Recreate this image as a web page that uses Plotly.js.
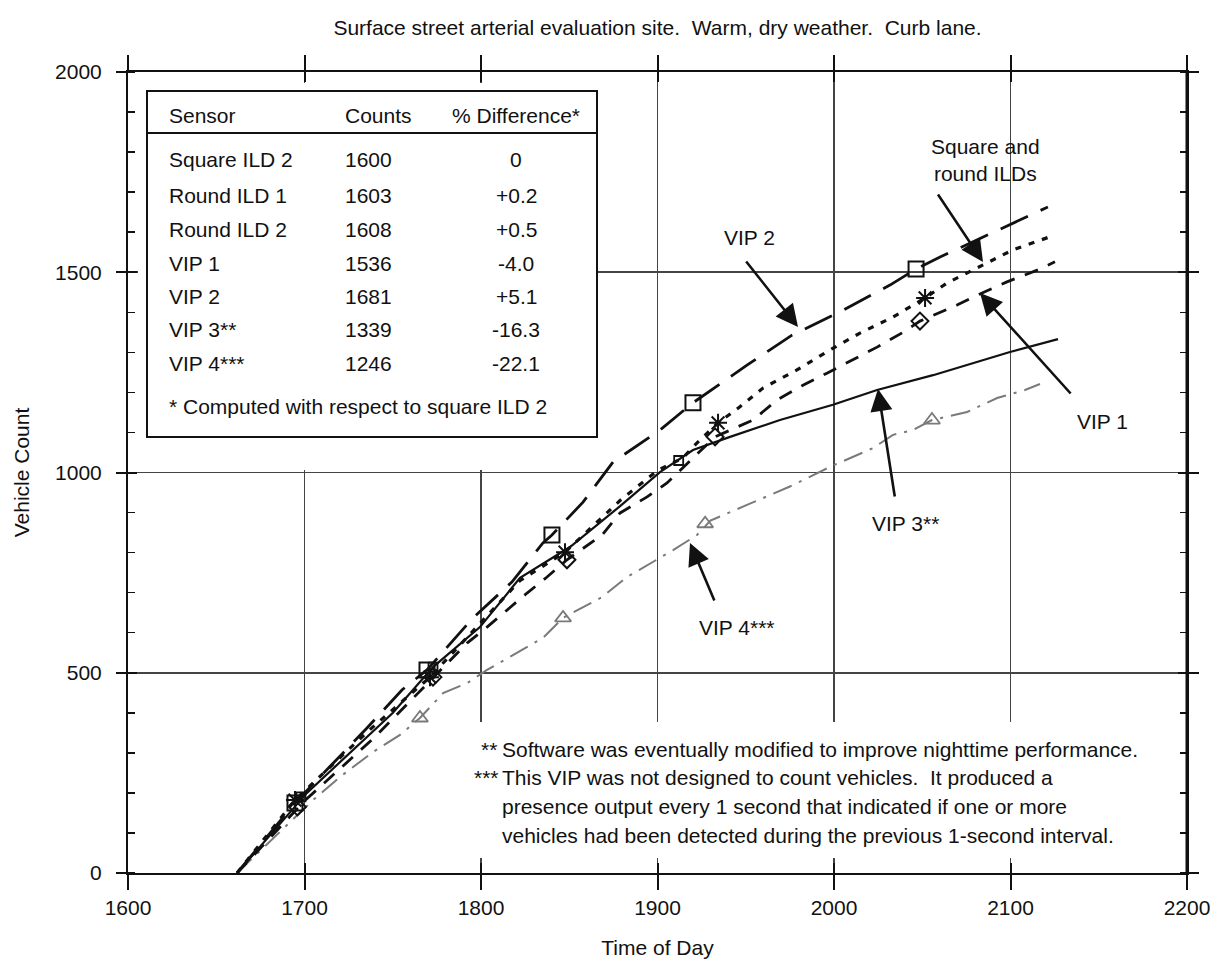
<!DOCTYPE html>
<html><head><meta charset="utf-8">
<script src="https://cdn.plot.ly/plotly-3.0.1.min.js"></script>
<style>html,body{margin:0;padding:0;background:#fff}#chart{width:1217px;height:960px}</style>
</head><body><div id="chart"></div>
<script>
// ---------- data ----------
const xTicks = [1600, 1700, 1800, 1900, 2000, 2100, 2200];
const yTicks = [0, 500, 1000, 1500, 2000];

// VIP 2 (long dashes, square markers)
const vip2Time  = [1661.8,1694.6,1735.4,1755.2,1769.4,1795.5,1817.6,1835.1,1840.2,1857.8,1874.8,1901.4,1920.1,1950.7,1976.2,2003.4,2031.7,2046.5,2060.1,2089.5,2121.2];
const vip2Count = [0,175,362,457,507,637,727,824,844,926,1026,1106,1174,1268,1343,1401,1468,1508,1538,1598,1663];
const vip2MarkTime  = [1694.6,1769.4,1840.2,1920.1,2046.5];
const vip2MarkCount = [175,507,844,1174,1508];

// Square and round ILDs (short dashes, asterisk markers)
const ildTime  = [1661.8,1694.6,1735,1771.1,1822,1847.6,1878.8,1900.3,1914.4,1920.1,1934.3,1946.7,1959.8,1979.0,1997.7,2014.7,2033.4,2051.6,2064.0,2084.4,2101.4,2125.2];
const ildCount = [0,182,350,489,730,801,930,1006,1036,1064,1124,1164,1211,1256,1306,1348,1388,1436,1473,1518,1556,1593];
const ildMarkTime  = [1694.6,1771.1,1847.6,1934.3,2051.6];
const ildMarkCount = [182,489,801,1124,1436];

// VIP 1 (medium dashes, diamond markers)
const vip1Time  = [1661.8,1700,1740,1772.8,1792.1,1803.4,1814.7,1826.1,1837.4,1848.7,1868.6,1878.8,1894.1,1905.4,1932.6,1954.1,1967.7,1982.4,1996.0,2010.8,2024.4,2039.1,2048.7,2069.7,2078.8,2098.0,2115.6,2125.2];
const vip1Count = [0,180,340,489,574,614,657,699,739,782,844,899,939,974,1089,1131,1181,1218,1248,1281,1313,1350,1378,1418,1438,1476,1506,1526];
const vip1MarkTime  = [1696,1772.8,1848.7,1932.6,2048.7];
const vip1MarkCount = [165,489,782,1089,1378];

// VIP 3** (solid)
const vip3Time  = [1661.8,1701.4,1750.1,1772.8,1799.4,1822.1,1850.4,1878.8,1901.4,1920.1,1941.1,1969.4,1999.4,2024.4,2056.1,2078.8,2099.7,2126.9];
const vip3Count = [0,200,400,514,614,737,814,916,1001,1056,1089,1131,1169,1206,1243,1273,1301,1333];
const vip3MarkTime  = [1698,1772.8,1912];
const vip3MarkCount = [190,514,1030];

// VIP 4*** (grey dash-dot, triangle markers)
const vip4Time  = [1661.8,1704.8,1720.1,1738.8,1754.1,1765.4,1778.5,1792.1,1803.4,1818.1,1835.1,1846.5,1868.6,1882.7,1894.1,1908.8,1922.4,1930,1950.7,1975,1997.7,2013.0,2022.1,2033.4,2044.8,2055.5,2075.4,2092.4,2108.2,2116.7];
const vip4Count = [0,182,240,302,345,387,449,474,507,544,587,637,689,739,769,806,844,880,919,965,1014,1044,1061,1094,1106,1131,1151,1186,1206,1221];
const vip4MarkTime  = [1765.4,1846.5,1927,2055.5];
const vip4MarkCount = [387,637,872,1131];

// table
const tableSensors = ['Square ILD 2','Round ILD 1','Round ILD 2','VIP 1','VIP 2','VIP 3**','VIP 4***'];
const tableCounts  = ['1600','1603','1608','1536','1681','1339','1246'];
const tableDiffs   = ['0','+0.2','+0.5','-4.0','+5.1','-16.3','-22.1'];

// ---------- layout helpers (pixel -> paper) ----------
const L = 128, R = 1187, T = 72, B = 873;
const px = x => (x - L) / (R - L);
const py = y => (B - y) / (B - T);
const FONT = 'Liberation Sans, Arial, Helvetica, sans-serif';
const INK = '#111';

function txt(x, y, text, anchor, size) {
  return {xref:'paper', yref:'paper', x:px(x), y:py(y), text:text, showarrow:false,
          xanchor:anchor || 'left', yanchor:'middle', font:{family:FONT, size:size || 21, color:INK}};
}
function arrow(tipX, tipY, tailX, tailY) {
  return {xref:'paper', yref:'paper', x:px(tipX), y:py(tipY), ax:tailX - tipX, ay:tailY - tipY,
          text:'', showarrow:true, arrowhead:2, arrowsize:1.7, arrowwidth:2.6, arrowcolor:INK, standoff:0, startstandoff:0};
}

const lineTrace = (x, y, style) => ({x, y, type:'scatter', mode:'lines', line:style, hoverinfo:'skip', showlegend:false});
const markTrace = (x, y, mk) => ({x, y, type:'scatter', mode:'markers', marker:mk, hoverinfo:'skip', showlegend:false});

const traces = [
  lineTrace(vip4Time, vip4Count, {color:'#7a7a7a', width:2, dash:'20px,8px,3px,8px'}),
  lineTrace(vip3Time, vip3Count, {color:INK, width:2.2}),
  lineTrace(vip1Time, vip1Count, {color:INK, width:2.8, dash:'14px,11px'}),
  lineTrace(ildTime, ildCount, {color:INK, width:3.2, dash:'6px,8px'}),
  lineTrace(vip2Time, vip2Count, {color:INK, width:2.8, dash:'30px,14px'}),
  markTrace(vip4MarkTime, vip4MarkCount, {symbol:'triangle-up-open', size:14, color:'#7a7a7a', line:{width:1.8, color:'#7a7a7a'}}),
  markTrace(vip3MarkTime, vip3MarkCount, {symbol:'square-open', size:9, color:INK, line:{width:1.8, color:INK}}),
  markTrace(vip1MarkTime, vip1MarkCount, {symbol:'diamond-open', size:13, color:INK, line:{width:2, color:INK}}),
  markTrace(ildMarkTime, ildMarkCount, {symbol:'asterisk-open', size:15, color:INK, line:{width:2, color:INK}}),
  markTrace(vip2MarkTime, vip2MarkCount, {symbol:'square-open', size:15, color:INK, line:{width:2, color:INK}}),
  {x:[], y:[], type:'scatter', mode:'markers', xaxis:'x2', yaxis:'y2', showlegend:false, hoverinfo:'skip'}
];

const annotations = [
  txt(167, 115, 'Sensor'),
  txt(343, 115, 'Counts'),
  txt(450, 115, '% Difference*'),
  txt(167, 406, '* Computed with respect to square ILD 2')
];
const rowY = [159, 195, 229, 263, 296, 329, 363];
tableSensors.forEach((s, i) => {
  annotations.push(txt(167, rowY[i], s));
  annotations.push(txt(343, rowY[i], tableCounts[i]));
  annotations.push(txt(516, rowY[i], tableDiffs[i], 'center'));
});
annotations.push(
  arrow(798, 327, 745, 260),
  arrow(983, 262, 937, 193),
  arrow(980, 293, 1072, 395),
  arrow(878, 389, 895, 498),
  arrow(690, 543, 715, 602),
  txt(722, 238, 'VIP 2'),
  txt(985, 160, 'Square and<br>round ILDs', 'center'),
  txt(1075, 422, 'VIP 1'),
  txt(870, 523, 'VIP 3**'),
  txt(697, 628, 'VIP 4***'),
  txt(479, 749, '**'),
  txt(500, 749, 'Software was eventually modified to improve nighttime performance.'),
  txt(472, 777, '***'),
  txt(500, 777, 'This VIP was not designed to count vehicles.\u00A0 It produced a'),
  txt(500, 806, 'presence output every 1 second that indicated if one or more'),
  txt(500, 835, 'vehicles had been detected during the previous 1-second interval.')
);

const shapes = [
  // hide grid behind/around the table
  {type:'rect', xref:'paper', yref:'paper', x0:px(138), x1:px(597), y0:py(470), y1:py(83), fillcolor:'#fff', line:{width:0}, layer:'above'},
  // hide grid behind footnotes
  {type:'rect', xref:'paper', yref:'paper', x0:px(466), x1:px(1172), y0:py(858), y1:py(722), fillcolor:'#fff', line:{width:0}, layer:'above'},
  // table frame
  {type:'rect', xref:'paper', yref:'paper', x0:px(147), x1:px(597), y0:py(437), y1:py(91), fillcolor:'#fff', line:{width:2, color:INK}, layer:'above'},
  {type:'line', xref:'paper', yref:'paper', x0:px(147), x1:px(597), y0:py(133), y1:py(133), line:{width:2, color:INK}, layer:'above'},
  // heavier right frame
  {type:'line', xref:'paper', yref:'paper', x0:1, x1:1, y0:0, y1:1, line:{width:3, color:INK}, layer:'above'}
];

const axisBase = {showline:true, linecolor:INK, linewidth:2, mirror:'ticks', zeroline:false, tickcolor:INK, tickwidth:2, fixedrange:true};

const layout = {
  width:1217, height:960,
  margin:{l:L, r:1217 - R, t:T, b:960 - B, pad:0},
  paper_bgcolor:'#fff', plot_bgcolor:'#fff',
  showlegend:false,
  font:{family:FONT, size:21, color:INK},
  title:{text:'Surface street arterial evaluation site.\u00A0 Warm, dry weather.\u00A0 Curb lane.',
         xref:'paper', x:0.5, xanchor:'center', yref:'container', y:1 - 28/960, yanchor:'middle',
         font:{family:FONT, size:21, color:INK}},
  xaxis: Object.assign({}, axisBase, {
    range:[1600, 2200], tickmode:'array', tickvals:xTicks, ticktext:xTicks.map(String),
    ticks:'outside', ticklen:15, showgrid:true, gridcolor:'#444', gridwidth:1.6,
    tickfont:{family:FONT, size:21, color:INK},
    title:{text:'Time of Day', standoff:22, font:{family:FONT, size:21, color:INK}}
  }),
  yaxis: Object.assign({}, axisBase, {
    range:[0, 2000], tickmode:'array', tickvals:yTicks, ticktext:yTicks.map(String),
    ticks:'outside', ticklen:10, showgrid:true, gridcolor:'#444', gridwidth:1.6,
    ticklabelstandoff:10,
    minor:{tickmode:'linear', tick0:0, dtick:100, ticks:'inside', ticklen:7, tickwidth:1.5, tickcolor:INK, showgrid:false},
    tickfont:{family:FONT, size:21, color:INK},
    title:{text:'Vehicle Count', standoff:20, font:{family:FONT, size:21, color:INK}}
  }),
  xaxis2: Object.assign({}, axisBase, {
    overlaying:'x', anchor:'y2', side:'bottom', range:[1600, 2200], tickmode:'array', tickvals:xTicks,
    ticks:'inside', ticklen:10, showgrid:false, showticklabels:false
  }),
  yaxis2: Object.assign({}, axisBase, {
    overlaying:'y', anchor:'x2', side:'left', range:[0, 2000], tickmode:'array', tickvals:yTicks,
    ticks:'inside', ticklen:9, showgrid:false, showticklabels:false
  }),
  shapes:shapes,
  annotations:annotations
};

Plotly.newPlot('chart', traces, layout, {staticPlot:true, displayModeBar:false});
</script></body></html>
